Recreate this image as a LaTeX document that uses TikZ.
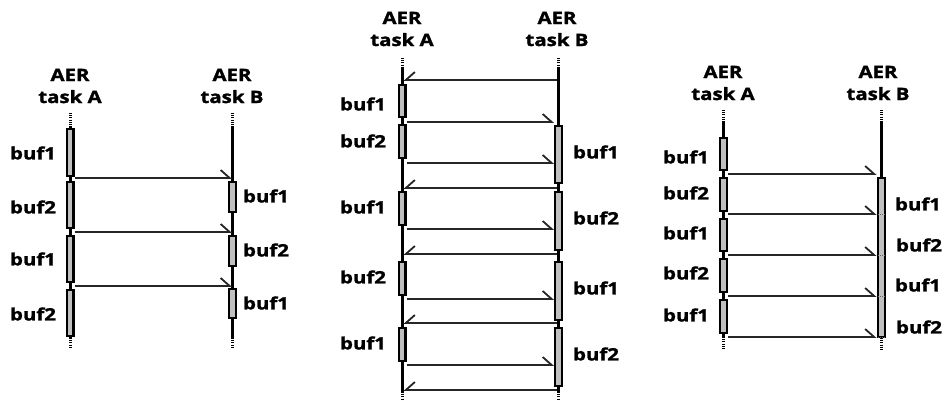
\documentclass[tikz,border=0pt]{standalone}
\usepackage{fontspec}
\setmainfont{Open Sans}[FakeStretch=1.2, BoldFeatures={FakeBold=1.5}]
\usetikzlibrary{arrows.meta}
\newcommand\barAt[4]{\node[bar,minimum height={(#4-#3-2.4)*1pt}] (#1) at (#2,{(#3+#4)/2}) {};}
\begin{document}
\begin{tikzpicture}[x=1pt,y=-1pt,
  lbl/.style={font=\bfseries\fontsize{17}{22}\selectfont, inner sep=0pt},
  hdr/.style={lbl, align=center},
  bar/.style={draw=black, line width=2.4pt, fill=black!25, minimum width=6.6pt, inner sep=0pt},
  life/.style={line width=3pt, black},
  dots/.style={line width=3pt, black, dash pattern=on 1pt off 1.2pt},
  msg/.style={draw=black!85, line width=1.1pt, -{Straight Barb[left,length=9pt,width=16pt,line width=1.8pt]}},
  msgb/.style={draw=black!85, line width=1.1pt, -{Straight Barb[right,length=9pt,width=16pt,line width=1.8pt]}},
  tick/.style={draw=black!60, line width=0.6pt, dash pattern=on 1pt off 1pt}]
\useasboundingbox[fill=white] (0,0) rectangle (944,401);

% ================= Panel 1 =================
\node[hdr] (p1ha) at (70,86) {AER\\task A};
\node[hdr] (p1hb) at (232,86) {AER\\task B};
\draw[dots] (70,113) -- (70,127);
\draw[life] (70,127) -- (70,338);
\draw[dots] (70,338) -- (70,349);
\draw[dots] (232,113) -- (232,126);
\draw[life] (232,126) -- (232,338);
\draw[dots] (232,338) -- (232,349);
\barAt{p1a1}{70}{128}{177}
\barAt{p1a2}{70}{181}{229}
\barAt{p1a3}{70}{235}{283}
\barAt{p1a4}{70}{289}{337}
\barAt{p1b1}{232.5}{181}{213}
\barAt{p1b2}{232.5}{235}{267}
\barAt{p1b3}{232.5}{288}{319}
\node[lbl] (p1la1) at (33,153) {buf1};
\node[lbl] (p1la2) at (33,207) {buf2};
\node[lbl] (p1la3) at (33,259) {buf1};
\node[lbl] (p1la4) at (33,314) {buf2};
\node[lbl] (p1lb1) at (266,196) {buf1};
\node[lbl] (p1lb2) at (266,250) {buf2};
\node[lbl] (p1lb3) at (266,303) {buf1};
\foreach \i/\y in {1/178,2/232,3/286}{
  \coordinate (p1s\i) at (74.5,\y);
  \coordinate (p1e\i) at (232,\y);
  \draw[msg] (p1s\i) -- (p1e\i);
}

% ================= Panel 2 =================
\node[hdr] (p2ha) at (402,29) {AER\\task A};
\node[hdr] (p2hb) at (557,29) {AER\\task B};
\draw[dots] (402,58) -- (402,68);
\draw[life] (402,68) -- (402,392);
\draw[dots] (402,392) -- (402,401);
\draw[dots] (558,58) -- (558,68);
\draw[life] (558,68) -- (558,392);
\draw[dots] (558,392) -- (558,401);
\barAt{p2a1}{402}{84}{118}
\barAt{p2a2}{402}{124}{159}
\barAt{p2a3}{402}{191}{226}
\barAt{p2a4}{402}{261}{296}
\barAt{p2a5}{402}{327}{362}
\barAt{p2b1}{558.5}{125}{184}
\barAt{p2b2}{558.5}{191}{251}
\barAt{p2b3}{558.5}{261}{321}
\barAt{p2b4}{558.5}{327}{387}
\node[lbl] (p2la1) at (363,104) {buf1};
\node[lbl] (p2la2) at (363,141) {buf2};
\node[lbl] (p2la3) at (363,207) {buf1};
\node[lbl] (p2la4) at (363,277) {buf2};
\node[lbl] (p2la5) at (363,343) {buf1};
\node[lbl] (p2lb1) at (596,152) {buf1};
\node[lbl] (p2lb2) at (596,218) {buf2};
\node[lbl] (p2lb3) at (596,288) {buf1};
\node[lbl] (p2lb4) at (596,354) {buf2};
\foreach \i/\y in {1/122,2/163,3/229,4/299,5/365}{
  \coordinate (p2s\i) at (406.5,\y);
  \coordinate (p2e\i) at (554,\y);
  \draw[msg] (p2s\i) -- (p2e\i);
}
\foreach \i/\y in {1/80,2/188,3/254,4/323,5/390}{
  \coordinate (p2r\i) at (557,\y);
  \coordinate (p2t\i) at (403.5,\y);
  \draw[msgb] (p2r\i) -- (p2t\i);
}

% ================= Panel 3 =================
\node[hdr] (p3ha) at (723,83) {AER\\task A};
\node[hdr] (p3hb) at (878,83) {AER\\task B};
\draw[dots] (723,110) -- (723,122);
\draw[life] (723,122) -- (723,337);
\draw[dots] (723,337) -- (723,350);
\draw[dots] (881,110) -- (881,122);
\draw[life] (881,122) -- (881,338);
\draw[dots] (881,338) -- (881,350);
\barAt{p3a1}{723.5}{137}{171}
\barAt{p3a2}{723.5}{177}{212}
\barAt{p3a3}{723.5}{218}{252}
\barAt{p3a4}{723.5}{258}{293}
\barAt{p3a5}{723.5}{299}{334}
\barAt{p3b1}{881.5}{177}{338}
\node[lbl] (p3la1) at (686,157) {buf1};
\node[lbl] (p3la2) at (686,193) {buf2};
\node[lbl] (p3la3) at (686,233) {buf1};
\node[lbl] (p3la4) at (686,273) {buf2};
\node[lbl] (p3la5) at (686,315) {buf1};
\node[lbl] (p3lb1) at (918,204) {buf1};
\node[lbl] (p3lb2) at (919,245) {buf2};
\node[lbl] (p3lb3) at (918,285) {buf1};
\node[lbl] (p3lb4) at (919,327) {buf2};
\foreach \i/\y in {1/174,2/214,3/255,4/296,5/337}{
  \coordinate (p3s\i) at (728,\y);
  \coordinate (p3e\i) at (876.5,\y);
  \draw[msg] (p3s\i) -- (p3e\i);
}
\foreach \y in {214,255,296,337}{
  \draw[tick] (878,\y) -- (885,\y);
}
\end{tikzpicture}
\end{document}
